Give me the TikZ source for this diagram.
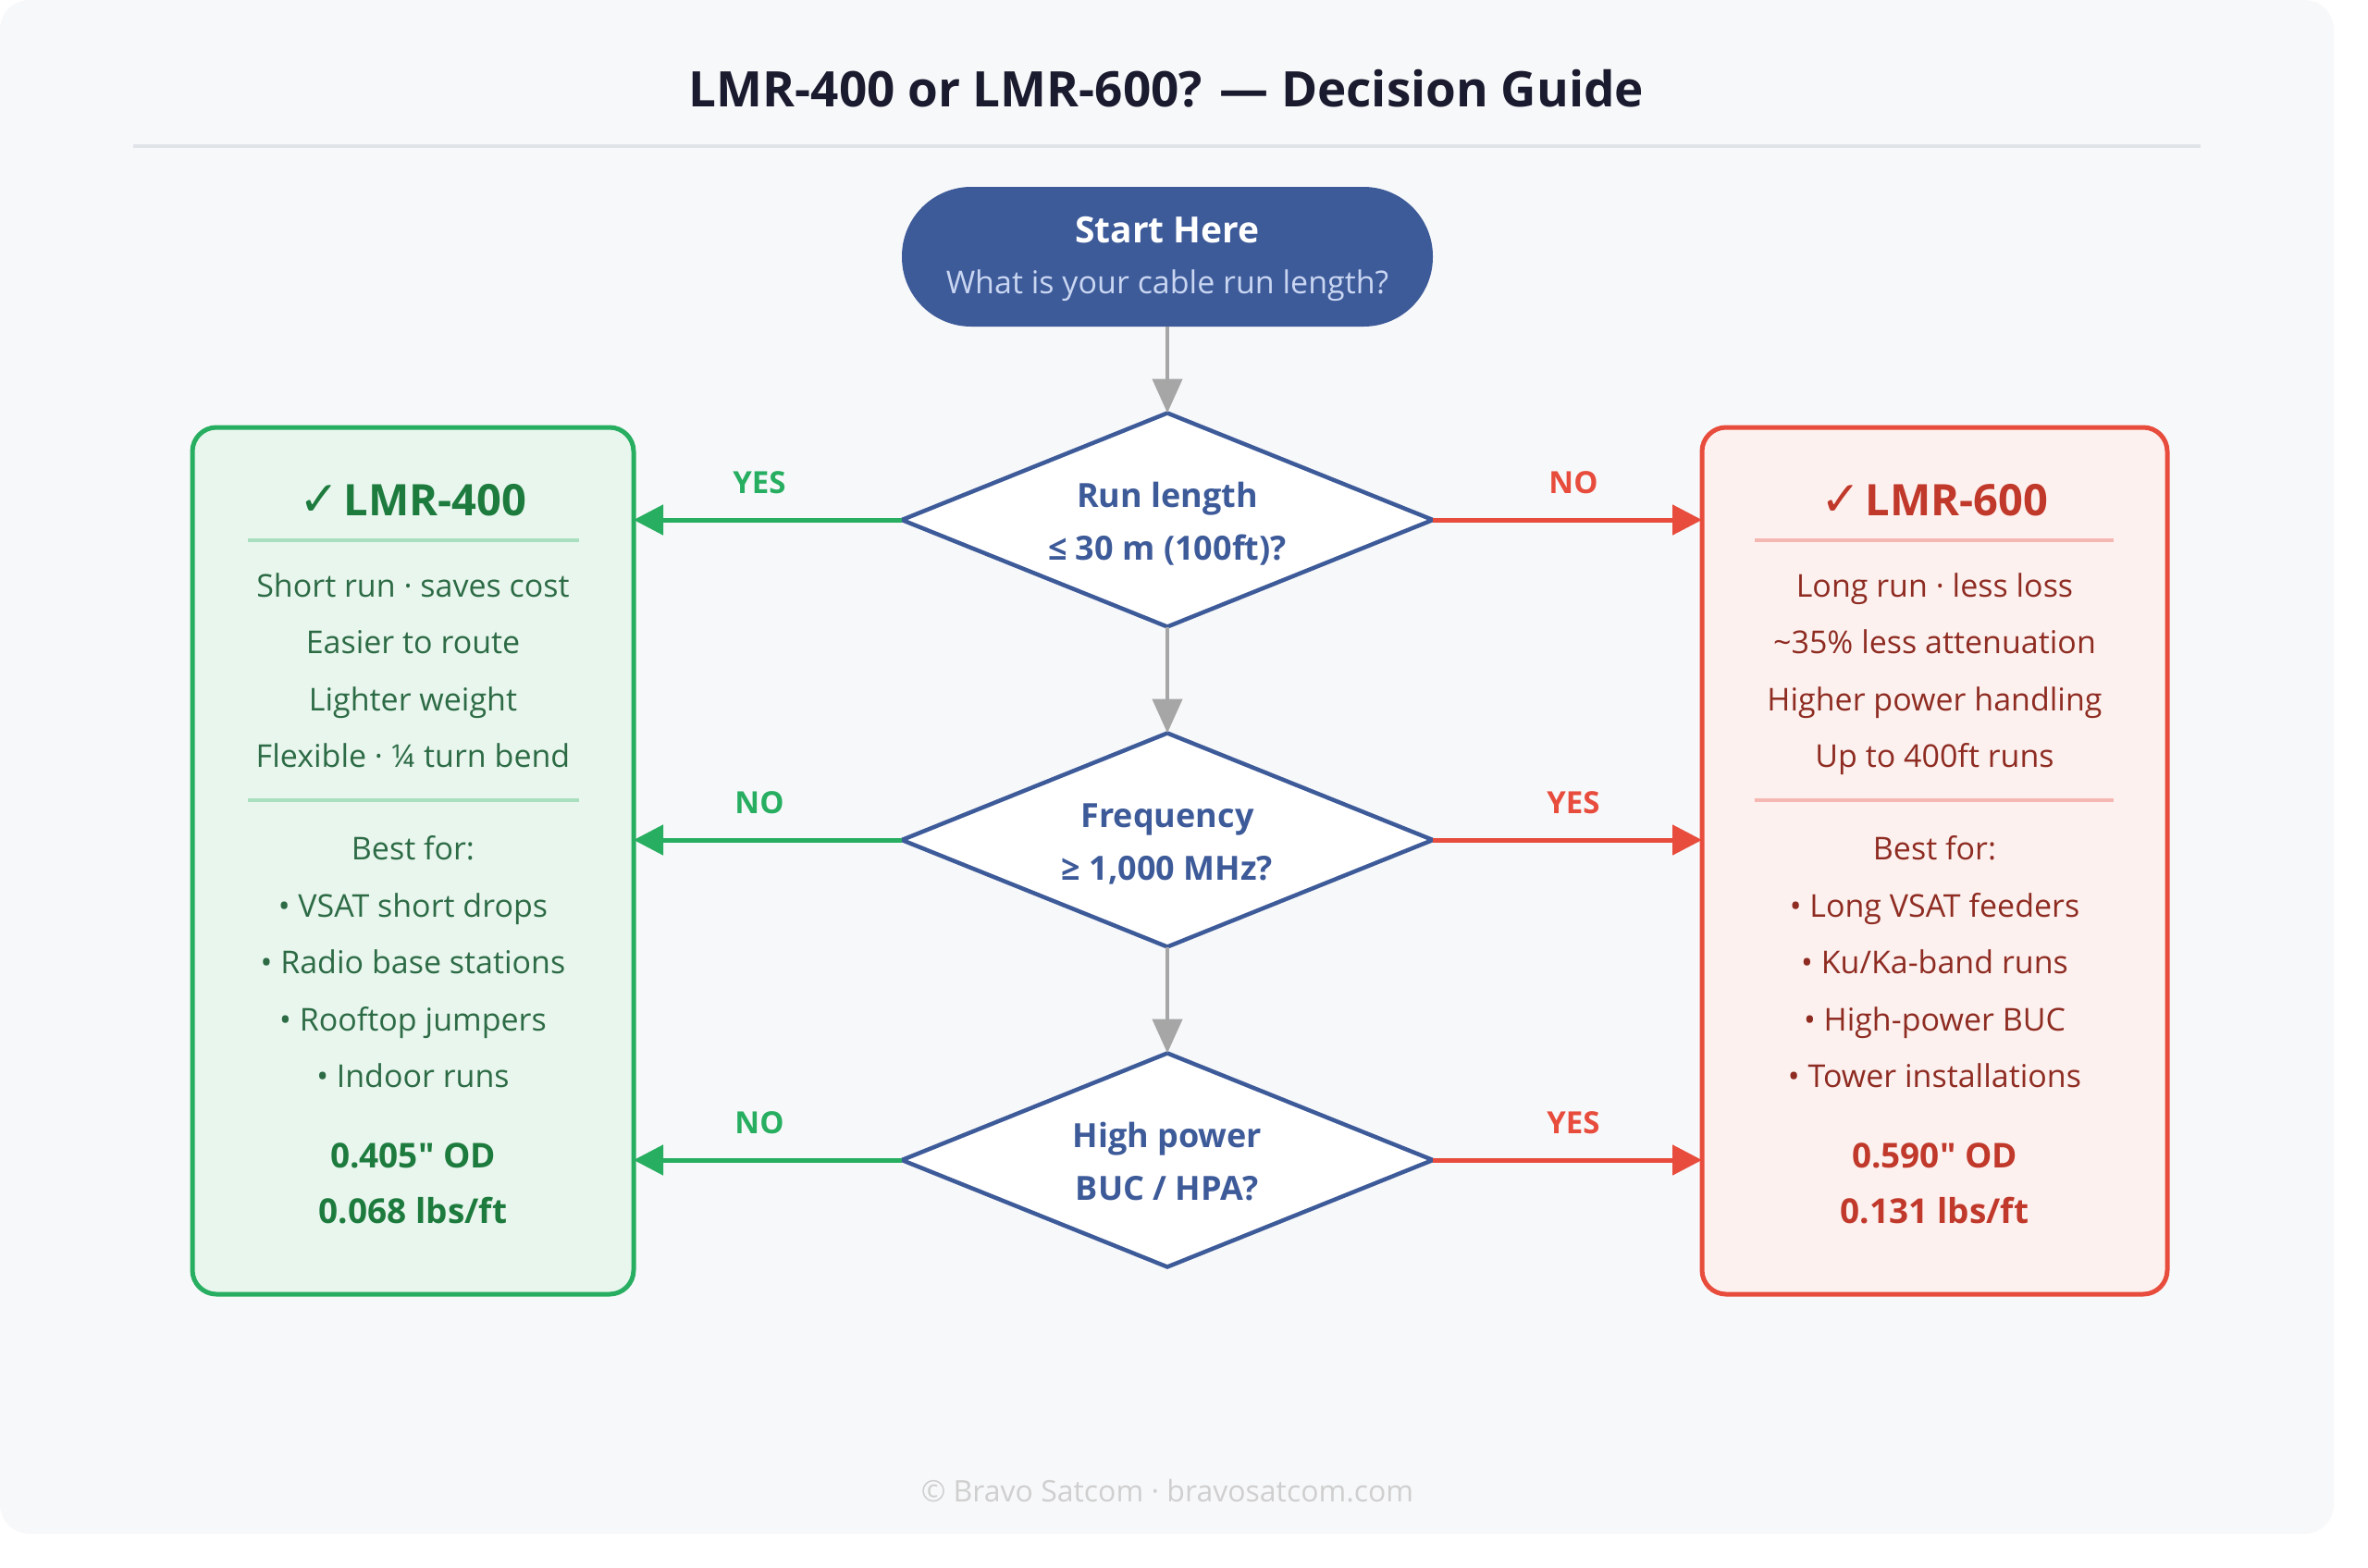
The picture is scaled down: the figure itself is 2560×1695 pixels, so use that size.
\documentclass[tikz,border=0pt]{standalone}
\usepackage{fontspec}
\setmainfont{Open Sans}[Ligatures=TeXOff]
\newfontfamily\symfont{DejaVu Sans}
\usetikzlibrary{arrows.meta,shapes.geometric}
\definecolor{panelbg}{HTML}{F7F8FA}
\definecolor{titlec}{HTML}{1B1B2F}
\definecolor{divc}{HTML}{E0E3E8}
\definecolor{blueC}{HTML}{3D5A99}
\definecolor{subc}{HTML}{C9D6F2}
\definecolor{grayA}{HTML}{A6A6A6}
\definecolor{greenC}{HTML}{27AE60}
\definecolor{greenFill}{HTML}{E8F6EE}
\definecolor{greenDark}{HTML}{1E7B3E}
\definecolor{greenText}{HTML}{2D6B45}
\definecolor{greenSep}{HTML}{A9DFBF}
\definecolor{redC}{HTML}{E74C3C}
\definecolor{redFill}{HTML}{FDF1EF}
\definecolor{redDark}{HTML}{C0392B}
\definecolor{redText}{HTML}{8E2C22}
\definecolor{redSep}{HTML}{F5B7B1}
\definecolor{footc}{HTML}{CFCFCF}
\newcommand\fsz[1]{\fontsize{#1}{#1}\selectfont}
\begin{document}
\begin{tikzpicture}[x=1pt,y=-1pt,
  every node/.style={inner sep=0pt, outer sep=0pt},
  txt/.style={anchor=base, align=center},
  dtxt/.style={txt, font=\fsz{36}\bfseries, text=blueC},
  decision/.style={diamond, draw=blueC, line width=4.5pt, fill=white, minimum width=574pt, minimum height=231pt},
  flowarrow/.style={draw=grayA, line width=4.5pt, -{Triangle[length=37pt,width=32pt]}},
  yesno/.style={txt, font=\fsz{33}\bfseries},
  lbody/.style={txt, font=\fsz{34}, text=greenText},
  lbold/.style={txt, font=\fsz{37}\bfseries, text=greenDark},
  rbody/.style={txt, font=\fsz{34}, text=redText},
  rbold/.style={txt, font=\fsz{37}\bfseries, text=redDark},
  garrow/.style={draw=greenC, line width=5pt, -{Triangle[length=32pt,width=32pt]}},
  rarrow/.style={draw=redC, line width=5pt, -{Triangle[length=32pt,width=32pt]}},
  result/.style={rectangle, rounded corners=26pt, line width=5pt, minimum height=937pt}
]
\useasboundingbox (0,0) rectangle (2560,1695);
\fill[white] (0,0) rectangle (2560,1695);
\fill[panelbg, rounded corners=32pt] (0,0) rectangle (2523,1658);

% title
\node[txt, font=\fsz{53}\bfseries, text=titlec] (title) at (1261,115) {LMR-400 or LMR-600? — Decision Guide};
\draw[divc, line width=4pt] (144,158) -- (2379,158);

% start
\node[rectangle, rounded corners=75pt, fill=blueC, minimum width=574pt, minimum height=151pt] (start) at (1262,277.5) {};
\node[txt, font=\fsz{39}\bfseries, text=white] (startA) at (1262,262) {Start Here};
\node[txt, font=\fsz{34}, text=subc] (startB) at (1262,317) {What is your cable run length?};

% decisions
\node[decision] (d1) at (1262,562) {};
\node[decision] (d2) at (1262,908) {};
\node[decision] (d3) at (1262,1254) {};
\node[dtxt] (d1a) at (1262,548) {Run length};
\node[dtxt] (d1b) at (1262,605) {≤ 30 m (100ft)?};
\node[dtxt] (d2a) at (1262,894) {Frequency};
\node[dtxt] (d2b) at (1262,951) {≥ 1,000 MHz?};
\node[dtxt] (d3a) at (1262,1240) {High power};
\node[dtxt] (d3b) at (1262,1297) {BUC / HPA?};

\draw[flowarrow] (start.south) -- (d1.north);
\draw[flowarrow] (d1.south) -- (d2.north);
\draw[flowarrow] (d2.south) -- (d3.north);

% result boxes
\node[result, draw=greenC, fill=greenFill, minimum width=477pt] (lbox) at (446.5,930.5) {};
\node[result, draw=redC, fill=redFill, minimum width=503pt] (rbox) at (2091.5,930.5) {};

% arrows to boxes
\draw[garrow] (d1.west) -- (d1.west -| lbox.east);
\draw[garrow] (d2.west) -- (d2.west -| lbox.east);
\draw[garrow] (d3.west) -- (d3.west -| lbox.east);
\draw[rarrow] (d1.east) -- (d1.east -| rbox.west);
\draw[rarrow] (d2.east) -- (d2.east -| rbox.west);
\draw[rarrow] (d3.east) -- (d3.east -| rbox.west);

\node[yesno, text=greenC] (l1) at (821,533) {YES};
\node[yesno, text=greenC] (l2) at (821,879) {NO};
\node[yesno, text=greenC] (l3) at (821,1225) {NO};
\node[yesno, text=redC] (r1) at (1701,533) {NO};
\node[yesno, text=redC] (r2) at (1701,879) {YES};
\node[yesno, text=redC] (r3) at (1701,1225) {YES};

% left box content
\node[txt, font=\fsz{47}\bfseries, text=greenDark] (lh) at (446.5,557) {{\symfont\fsz{52}\mdseries ✓}\hspace{4pt}LMR-400};
\draw[greenSep, line width=3.5pt] (268,584) -- (626,584);
\node[lbody] (lt1) at (446.5,645) {Short run · saves cost};
\node[lbody] (lt2) at (446.5,706.5) {Easier to route};
\node[lbody] (lt3) at (446.5,768) {Lighter weight};
\node[lbody] (lt4) at (446.5,829.5) {Flexible · ¼ turn bend};
\draw[greenSep, line width=3.5pt] (268,865) -- (626,865);
\node[lbody] (lb0) at (446.5,929) {Best for:};
\node[lbody] (lb1) at (446.5,991) {• VSAT short drops};
\node[lbody] (lb2) at (446.5,1052.5) {• Radio base stations};
\node[lbody] (lb3) at (446.5,1114) {• Rooftop jumpers};
\node[lbody] (lb4) at (446.5,1175) {• Indoor runs};
\node[lbold] (ls1) at (446.5,1262) {0.405" OD};
\node[lbold] (ls2) at (446.5,1322) {0.068 lbs/ft};

% right box content
\node[txt, font=\fsz{47}\bfseries, text=redDark] (rh) at (2091.5,557) {{\symfont\fsz{52}\mdseries ✓}\hspace{4pt}LMR-600};
\draw[redSep, line width=3.5pt] (1897,584) -- (2285,584);
\node[rbody] (rt1) at (2091.5,645) {Long run · less loss};
\node[rbody] (rt2) at (2091.5,706.5) {\textasciitilde35\% less attenuation};
\node[rbody] (rt3) at (2091.5,768) {Higher power handling};
\node[rbody] (rt4) at (2091.5,829.5) {Up to 400ft runs};
\draw[redSep, line width=3.5pt] (1897,865) -- (2285,865);
\node[rbody] (rb0) at (2091.5,929) {Best for:};
\node[rbody] (rb1) at (2091.5,991) {• Long VSAT feeders};
\node[rbody] (rb2) at (2091.5,1052.5) {• Ku/Ka-band runs};
\node[rbody] (rb3) at (2091.5,1114) {• High-power BUC};
\node[rbody] (rb4) at (2091.5,1175) {• Tower installations};
\node[rbold] (rs1) at (2091.5,1262) {0.590" OD};
\node[rbold] (rs2) at (2091.5,1322) {0.131 lbs/ft};

% footer
\node[txt, font=\fsz{32}, text=footc] (foot) at (1262,1623) {© Bravo Satcom · bravosatcom.com};
\end{tikzpicture}
\end{document}
